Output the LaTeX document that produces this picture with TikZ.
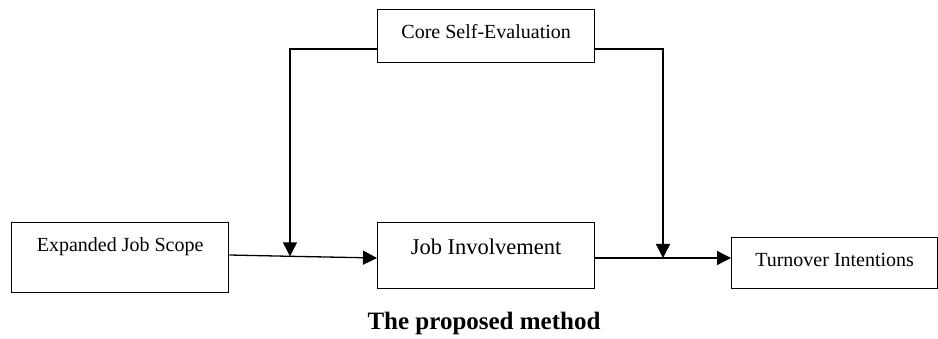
\documentclass[tikz,border=0pt]{standalone}
\usepackage{fontspec}
\setmainfont{Liberation Serif}
\usetikzlibrary{arrows.meta}

\begin{document}
\begin{tikzpicture}[x=1pt,y=-1pt,
  box/.style={draw,line width=1.3pt,rectangle,inner xsep=0pt,inner ysep=0pt,
    minimum width=217pt,anchor=north west,text=black},
  link/.style={line width=1.3pt,-{Triangle[length=14pt,width=14pt]}}]
  \useasboundingbox (0,0) rectangle (938,339);

  % Boxes
  \node[box,text height=29pt,text depth=41pt,font=\fontsize{20}{24}\selectfont]
    (scope) at (11,222) {Expanded Job Scope};
  \node[box,text height=29pt,text depth=24pt,font=\fontsize{20}{24}\selectfont]
    (cse) at (377,9) {Core Self-Evaluation};
  \node[box,text height=32pt,text depth=34pt,font=\fontsize{22.5}{27}\selectfont]
    (ji) at (377,222) {Job Involvement};
  \node[box,minimum width=206pt,text height=29pt,text depth=22pt,font=\fontsize{20}{24}\selectfont]
    (ti) at (731,237) {Turnover Intentions};

  % Meeting points of the moderator lines
  \coordinate (m1) at (290,256.3);
  \coordinate (m2) at (663,258);

  % Connectors
  \draw[line width=1.3pt] (scope.east |- 0,255) -- (m1);
  \draw[link] (m1) -- (ji.west |- 0,258);
  \draw[link] (cse.west |- 0,49) -| (m1);
  \draw[line width=1.3pt] (ji.east |- m2) -- (m2);
  \draw[link] (m2) -- (ti.west |- m2);
  \draw[link] (cse.east |- 0,49) -| (m2);

  % Caption
  \node[font=\bfseries\fontsize{25}{30}\selectfont,anchor=base] (cap) at (484,330) {The proposed method};
\end{tikzpicture}
\end{document}
